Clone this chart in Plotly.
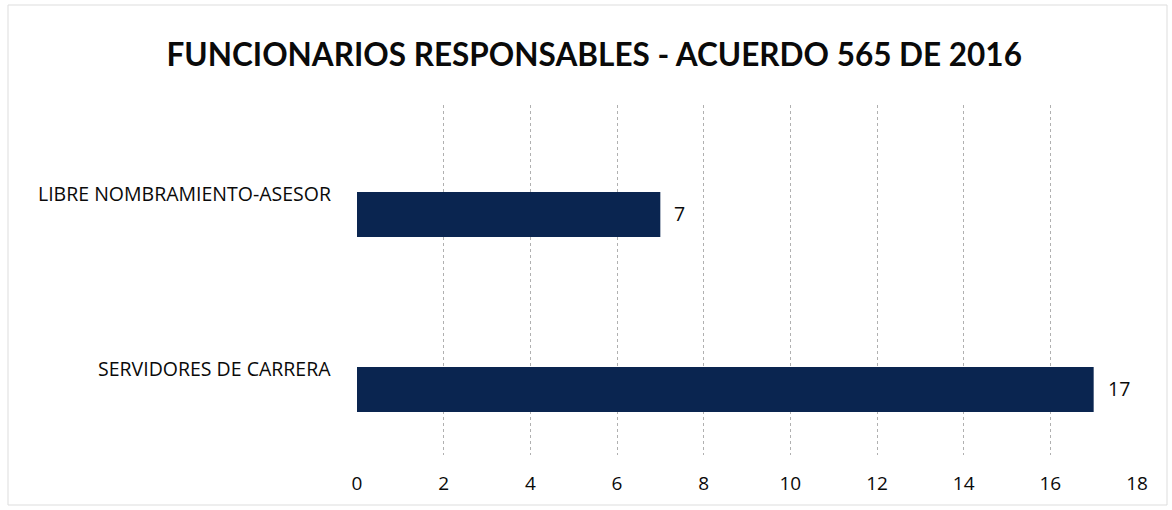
import plotly.graph_objects as go

categories = ["LIBRE NOMBRAMIENTO-ASESOR", "SERVIDORES DE CARRERA"]
values = [7, 17]
x_ticks = [0, 2, 4, 6, 8, 10, 12, 14, 16, 18]
title_text = "FUNCIONARIOS RESPONSABLES - ACUERDO 565 DE 2016"

bar_color = "#0a2550"
font_family = "'Open Sans', Lato, sans-serif"
title_family = "Lato, 'Open Sans', sans-serif"

fig = go.Figure()
fig.add_trace(go.Bar(
    x=values, y=categories, orientation="h",
    marker=dict(color=bar_color, line=dict(width=0)),
    width=0.257, hoverinfo="x+y",
))

for c, v in zip(categories, values):
    fig.add_annotation(
        x=0, xref="paper", y=c, yref="y", text=c, showarrow=False,
        xanchor="right", yanchor="middle", xshift=-24, yshift=21,
        font=dict(size=19.5, color="#0a0a0a", family=font_family, weight=500),
    )
    fig.add_annotation(
        x=v, xref="x", y=c, yref="y", text=str(v), showarrow=False,
        xanchor="left", yanchor="middle", xshift=12, yshift=1,
        font=dict(size=19.5, color="#0a0a0a", family=font_family, weight=500),
    )

fig.update_layout(
    width=1172, height=510,
    margin=dict(l=357, r=35, t=105, b=55),
    paper_bgcolor="white", plot_bgcolor="white",
    showlegend=False,
    title=dict(text="<b>" + title_text + "</b>", x=0.507, xanchor="center",
               y=0.892, yanchor="middle",
               font=dict(size=31.5, color="#0a0a0a", family=title_family)),
    xaxis=dict(range=[0, 18], tickvals=x_ticks, showgrid=True,
               gridcolor="#b0b0b0", griddash="dot", gridwidth=1,
               zeroline=False, showline=False, ticks="",
               ticklabelstandoff=15,
               tickfont=dict(size=19, color="#0a0a0a", family=font_family, weight=500)),
    yaxis=dict(range=[1.374, -0.626], showticklabels=False, showgrid=False,
               zeroline=False, showline=False),
    shapes=[dict(type="rect", xref="paper", yref="paper",
                 x0=-349/780, x1=1 + 30/780, y0=-50/350, y1=1 + 100/350,
                 line=dict(color="#dddddd", width=1))],
)

fig.write_html("out.html")
